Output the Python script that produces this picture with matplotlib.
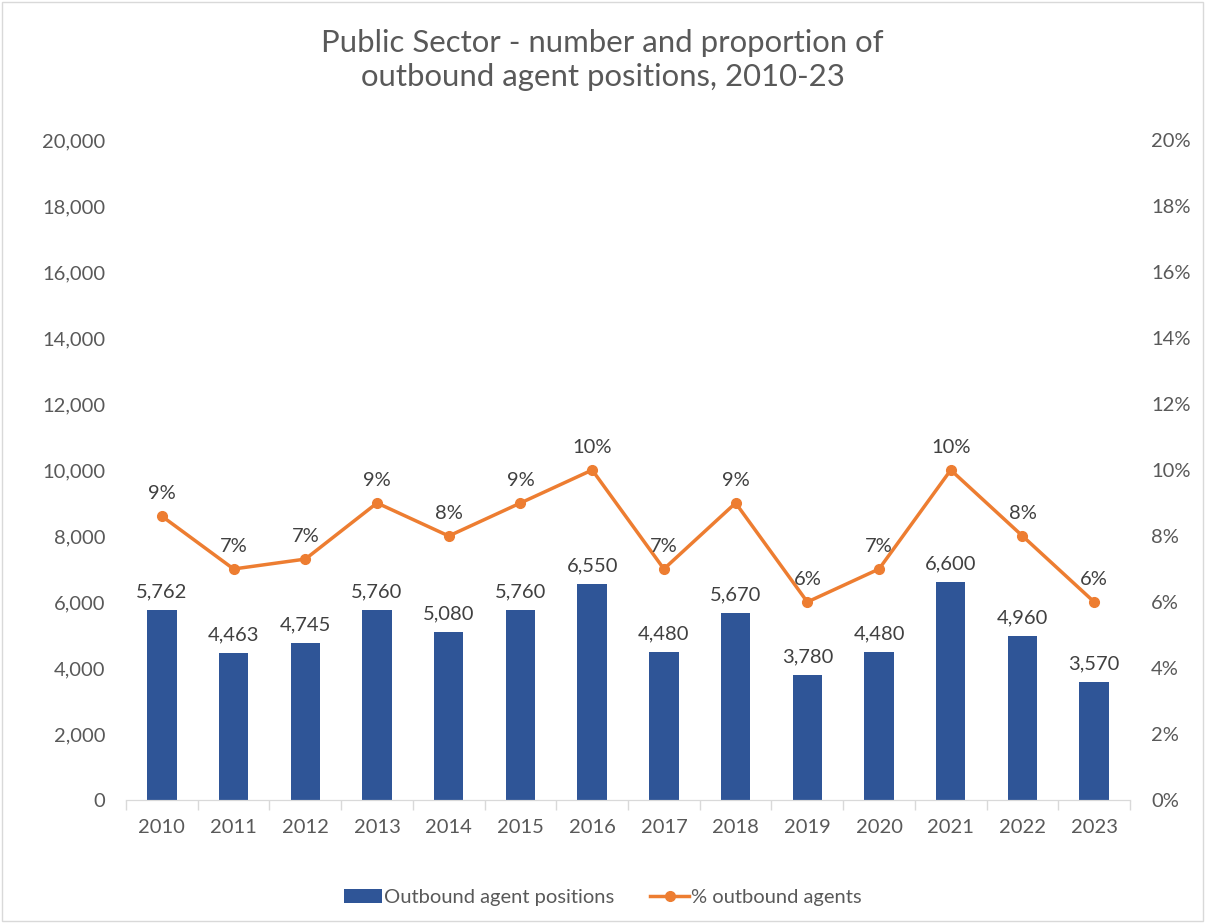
import matplotlib
matplotlib.use("Agg")
import matplotlib.pyplot as plt
from matplotlib.ticker import FuncFormatter, MultipleLocator, FixedLocator
from matplotlib.patches import Rectangle

years = ["2010", "2011", "2012", "2013", "2014", "2015", "2016",
         "2017", "2018", "2019", "2020", "2021", "2022", "2023"]
positions = [5762, 4463, 4745, 5760, 5080, 5760, 6550,
             4480, 5670, 3780, 4480, 6600, 4960, 3570]
share_pct = [8.6, 7.0, 7.3, 9.0, 8.0, 9.0, 10.0,
             7.0, 9.0, 6.0, 7.0, 10.0, 8.0, 6.0]

BAR = "#2F5597"
LINE = "#ED7D31"
TXT = "#595959"
LBL = "#404040"
FS = 14.5

plt.rcParams["font.family"] = ["Lato", "DejaVu Sans"]

fig = plt.figure(figsize=(12.05, 9.23), dpi=100)
fig.patches.append(Rectangle((0.002, 0.002), 0.996, 0.996, transform=fig.transFigure,
                             fill=False, edgecolor="#D9D9D9", linewidth=1))

ax = fig.add_axes([0.1046, 0.1333, 0.8332, 0.7150])
ax2 = ax.twinx()

x = list(range(len(years)))
bars = ax.bar(x, positions, width=0.41, color=BAR, zorder=2)
for xi, v in zip(x, positions):
    ax.annotate(f"{v:,}", (xi, v), xytext=(0, 7), textcoords="offset points",
                ha="center", va="bottom", fontsize=FS, color=LBL)

ax.set_xlim(-0.5, len(years) - 0.5)
ax.set_ylim(0, 20000)
ax.yaxis.set_major_locator(MultipleLocator(2000))
ax.yaxis.set_major_formatter(FuncFormatter(lambda v, p: f"{int(v):,}"))
ax.set_xticks(x)
ax.set_xticklabels(years)
ax.xaxis.set_minor_locator(FixedLocator([i - 0.5 for i in range(len(years) + 1)]))
ax.tick_params(axis="x", which="major", length=0, pad=14, labelsize=FS, labelcolor=TXT)
ax.tick_params(axis="x", which="minor", length=7, color="#D9D9D9", width=1)
ax.tick_params(axis="y", length=0, pad=15, labelsize=FS, labelcolor=TXT)

ax2.plot(x, share_pct, color=LINE, linewidth=2.5, marker="o", markersize=7, zorder=3)
for xi, v in zip(x, share_pct):
    ax2.annotate(f"{v:.0f}%", (xi, v), xytext=(0, 10), textcoords="offset points",
                 ha="center", va="bottom", fontsize=FS, color=LBL)
ax2.set_ylim(0, 20)
ax2.yaxis.set_major_locator(MultipleLocator(2))
ax2.yaxis.set_major_formatter(FuncFormatter(lambda v, p: f"{v:.0f}%"))
ax2.tick_params(axis="y", length=0, pad=15, labelsize=FS, labelcolor=TXT)

for a in (ax, ax2):
    for s in ("top", "left", "right"):
        a.spines[s].set_visible(False)
    a.spines["bottom"].set_color("#D9D9D9")

fig.text(0.5, 0.935, "Public Sector - number and proportion of\noutbound agent positions, 2010-23",
         ha="center", va="center", fontsize=22.4, color=TXT, linespacing=1.25)

line_handle, = ax.plot([], [], color=LINE, linewidth=2.5, marker="o", markersize=7)
fig.legend([bars, line_handle], ["Outbound agent positions", "% outbound agents"],
           loc="center", bbox_to_anchor=(0.5, 0.028), ncol=2, frameon=False,
           fontsize=FS, labelcolor=TXT, columnspacing=1.8, handlelength=1.9,
           handletextpad=0.1)

fig.savefig("out.png", dpi=100)
